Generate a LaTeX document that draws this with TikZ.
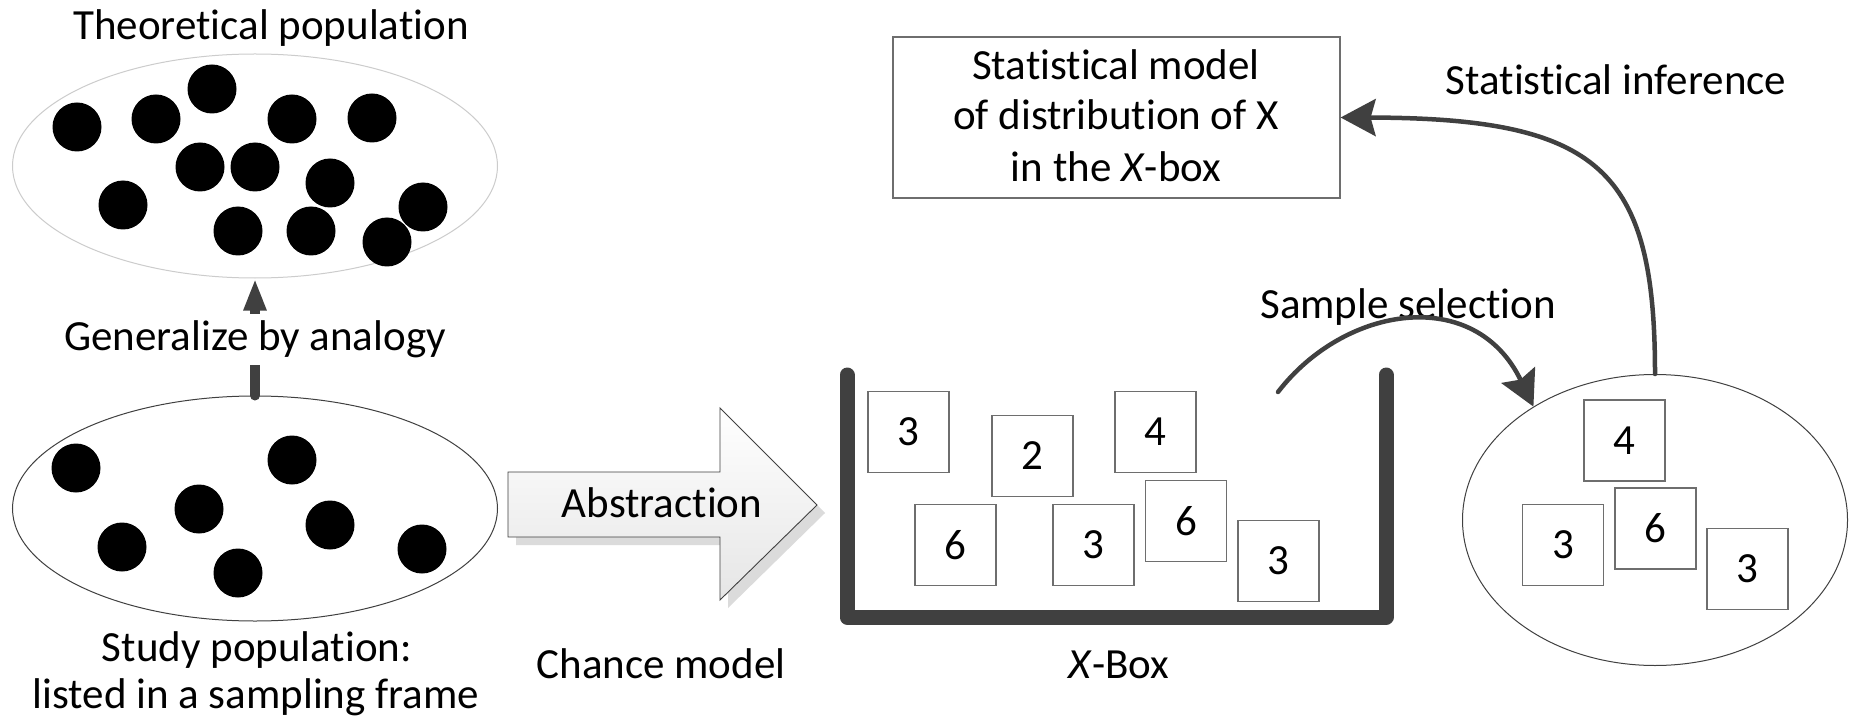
\documentclass[tikz,border=0pt]{standalone}
\usepackage{fontspec}
\setmainfont{Carlito}[RawFeature={-liga;-clig;-calt;-dlig}]
\usetikzlibrary{arrows.meta,shapes.geometric}
\definecolor{dk}{HTML}{404040}
\definecolor{bx}{HTML}{6E6E6E}
\newcommand\tii{t\kern0pt i}
\begin{document}
\begin{tikzpicture}[x=1pt,y=-1pt,
  font=\fontsize{43}{51}\selectfont,
  dot/.style={circle, fill=black, minimum size=49pt, inner sep=0pt},
  numbox/.style={draw=bx, line width=1.2pt, fill=white, minimum size=81pt, inner sep=0pt},
  lbl/.style={anchor=base, inner sep=0pt},
  pop/.style={ellipse, inner sep=0pt, line width=1pt},
  conn/.style={draw=dk, line width=4.5pt, line cap=round, -{Stealth[length=35pt,width=37pt,inset=5pt]}}]
\fill[white] (0,0) rectangle (1854,719);
\useasboundingbox (0,0) rectangle (1854,719);

% populations
\node[pop, draw=black!20, minimum width=485pt, minimum height=224pt] (tp) at (255,166) {};
\node[pop, draw=dk, minimum width=485pt, minimum height=225pt] (sp) at (255,508.5) {};
\foreach \p [count=\i] in {(77,127),(156,119),(212,89),(292,119),(372,118),(200,167),(255,167),(330,183),(123,205),(238,231),(311,231),(423,207),(387,242)}
  \node[dot] (t\i) at \p {};
\foreach \p [count=\i] in {(76,468),(122,547),(199,509),(238,573),(292,460),(330,525),(422,549)}
  \node[dot] (s\i) at \p {};
\node[lbl] (ttl) at (271,40) {Theore\tii cal popula\tii on};
\node[lbl] (st1) at (257,661) {Study popula\tii on:};
\node[lbl] (st2) at (256,708) {listed in a sampling frame};

% generalize arrow
\draw[draw=dk, line width=10pt, line cap=round, -{Triangle[length=32pt,width=21pt]}] (sp.north) -- (tp.south);
\node[anchor=base, fill=white, inner xsep=2pt, inner ysep=4pt, text height=32pt, text depth=11pt] (gen) at (255,350) {Generalize by analogy};

% abstraction block arrow
\fill[black!14, shift={(8,8)}] (508,472) -- (720,472) -- (720,408) -- (817,505) -- (720,600) -- (720,537) -- (508,537) -- cycle;
\draw[draw=dk, line width=0.9pt, top color=white, bottom color=black!10] (508,472) -- (720,472) -- (720,408) -- (817,505) -- (720,600) -- (720,537) -- (508,537) -- cycle;
\node[lbl] (abs) at (662,517) {Abstrac\tii on};
\node[lbl] (chm) at (661,678) {Chance model};

% X-box
\draw[dk, line width=15pt, line cap=round, line join=round] (847,375) -- (847,617) -- (1386,617) -- (1386,375);
\node[numbox] (b1) at (908.5,432) {3};
\node[numbox] (b2) at (1032.5,456) {2};
\node[numbox] (b3) at (1155.5,432) {4};
\node[numbox] (b4) at (955.5,545) {6};
\node[numbox] (b5) at (1093.5,545) {3};
\node[numbox] (b6) at (1186,521) {6};
\node[numbox] (b7) at (1278.5,561) {3};
\node[lbl] (xbl) at (1119,678) {\textit{X}-Box};

% sample
\node[pop, draw=dk, minimum width=385pt, minimum height=291pt] (samp) at (1655,520) {};
\node[numbox] (c1) at (1624.5,440.5) {4};
\node[numbox] (c2) at (1563,545) {3};
\node[numbox] (c3) at (1655.5,528.5) {6};
\node[numbox] (c4) at (1747.5,569) {3};

% model box
\node[draw=bx, line width=1.2pt, minimum width=447pt, minimum height=161pt, inner sep=0pt] (model) at (1116.5,117.5) {};
\node[lbl] (m1) at (1116,80) {Statis\tii cal model};
\node[lbl] (m2) at (1116,130) {of distribu\tii on of X};
\node[lbl] (m3) at (1116,182) {in the \textit{X}-box};

% connectors
\coordinate (selstart) at (1278,392);
\node[lbl] (sel) at (1408,318) {Sample selec\tii on};
\draw[conn] (selstart) .. controls (1345,305) and (1475,285) .. (samp.137);
\node[lbl] (inf) at (1616,95) {Statis\tii cal inference};
\draw[conn] (samp.north) .. controls (1655,170) and (1600,118) .. (model.east);
\end{tikzpicture}
\end{document}
